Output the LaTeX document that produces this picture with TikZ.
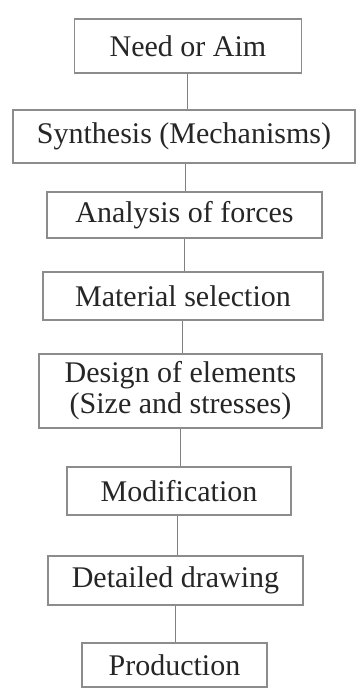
\documentclass[tikz,border=0pt]{standalone}
\usepackage{fontspec}
\setmainfont{Liberation Serif}
\begin{document}
\begin{tikzpicture}[x=1pt,y=-1pt,
  stage/.style={draw=black!45, line width=1.1pt, rectangle, inner sep=0pt,
    text=black!85, font=\fontsize{30}{31}\selectfont, align=center},
  link/.style={draw=black!50, line width=1pt}]
\useasboundingbox[fill=white] (0,0) rectangle (356,689);
\node[stage, minimum width=227, minimum height=54] (n1) at (188,46) {Need or Aim};
\node[stage, minimum width=342, minimum height=53] (n2) at (184,136.5) {Synthesis (Mechanisms)};
\node[stage, minimum width=275, minimum height=46] (n3) at (184.5,215) {Analysis of forces};
\node[stage, minimum width=280, minimum height=48] (n4) at (183,296) {Material selection};
\node[stage, minimum width=283, minimum height=74] (n5) at (180.5,391) {Design of elements\\(Size and stresses)};
\node[stage, minimum width=224, minimum height=48] (n6) at (179,491) {Modification};
\node[stage, minimum width=255, minimum height=49] (n7) at (175.5,580.5) {Detailed drawing};
\node[stage, minimum width=185, minimum height=44] (n8) at (174.5,665) {Production};
\draw[link] ([xshift=-1pt]n1.south) -- ([xshift=-1pt]n1.south |- n2.north);
\draw[link] ([xshift=1pt]n2.south) -- ([xshift=1pt]n2.south |- n3.north);
\draw[link] (n3.south) -- (n3.south |- n4.north);
\draw[link] ([xshift=-0.5pt]n4.south) -- ([xshift=-0.5pt]n4.south |- n5.north);
\draw[link] (n5.south) -- (n5.south |- n6.north);
\draw[link] ([xshift=-1.5pt]n6.south) -- ([xshift=-1.5pt]n6.south |- n7.north);
\draw[link] (n7.south) -- (n7.south |- n8.north);
\end{tikzpicture}
\end{document}
